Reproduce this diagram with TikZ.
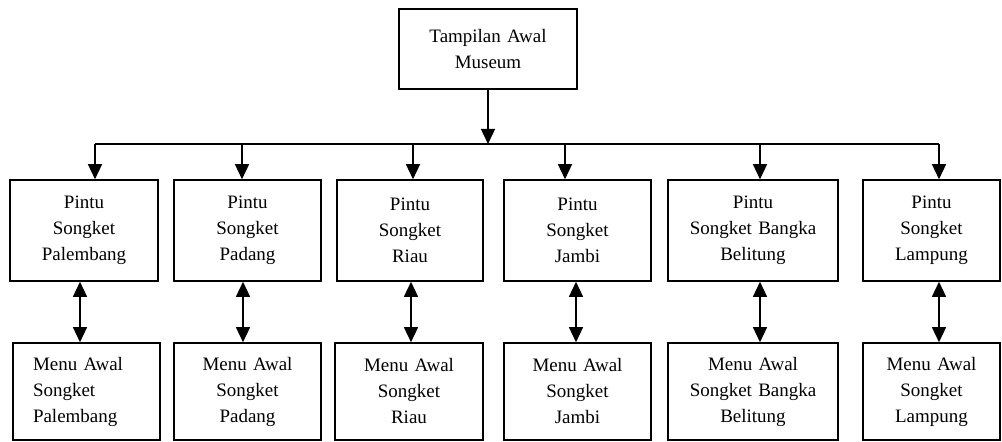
\documentclass[tikz,border=0pt]{standalone}
\usepackage{fontspec}
\setmainfont{Liberation Serif}
\usetikzlibrary{arrows.meta}
\begin{document}
\begin{tikzpicture}
    [
        x=0.02cm, y=-0.02cm,
        every node/.style={draw, line width=0.9pt, inner sep=0pt, align=center,
            font=\fontsize{10.8}{14.8}\selectfont},
        pintu/.style={minimum height=2.02cm},
        menu/.style={minimum height=1.94cm},
        every path/.style={line width=0.8pt},
        arrow/.style={-{Triangle[length=0.3cm, width=0.28cm]}},
        dblarrow/.style={{Triangle[length=0.3cm, width=0.28cm]}-{Triangle[length=0.3cm, width=0.28cm]}},
    ]
  \useasboundingbox (0,0) rectangle (1002,442);

  % Nodes
  \node [minimum width=3.56cm, minimum height=1.6cm, text width=3.2cm] (T) at (488,49) {Tampilan Awal\\Museum};

  \node [pintu, minimum width=2.96cm, text width=2.7cm] (P1) at (84,230.5) {Pintu\\Songket\\Palembang};
  \node [pintu, minimum width=2.94cm, text width=2.7cm] (P2) at (247.5,230.5) {Pintu\\Songket\\Padang};
  \node [pintu, minimum width=2.92cm, text width=2.7cm] (P3) at (410,230.5) {Pintu\\Songket\\Riau};
  \node [pintu, minimum width=2.94cm, text width=2.7cm] (P4) at (577.5,230.5) {Pintu\\Songket\\Jambi};
  \node [pintu, minimum width=3.4cm, text width=3.1cm] (P5) at (753,230.5) {Pintu\\Songket Bangka\\Belitung};
  \node [pintu, minimum width=2.74cm, text width=2.5cm] (P6) at (931.5,230.5) {Pintu\\Songket\\Lampung};

  \node [menu, minimum width=2.94cm, text width=2.14cm, align=left] (M1) at (86.5,391.5) {Menu Awal\\Songket\\Palembang};
  \node [menu, minimum width=2.94cm, text width=2.7cm] (M2) at (247.5,391.5) {Menu Awal\\Songket\\Padang};
  \node [menu, minimum width=2.96cm, text width=2.7cm] (M3) at (409,391.5) {Menu Awal\\Songket\\Riau};
  \node [menu, minimum width=2.94cm, text width=2.7cm] (M4) at (577.5,391.5) {Menu Awal\\Songket\\Jambi};
  \node [menu, minimum width=3.4cm, text width=3.1cm] (M5) at (753,391.5) {Menu Awal\\Songket Bangka\\Belitung};
  \node [menu, minimum width=2.74cm, text width=2.5cm] (M6) at (931.5,391.5) {Menu Awal\\Songket\\Lampung};

  % Bus line
  \coordinate (bL) at (95,144);
  \coordinate (bC) at (488,144);
  \coordinate (bR) at (939,144);
  \draw (bL) -- (bR);
  \draw [arrow] (T) -- (bC);

  % Connections
  \coordinate (a1) at (95,144);
  \coordinate (a2) at (242,144);
  \coordinate (a3) at (413,144);
  \coordinate (a4) at (565,144);
  \coordinate (a5) at (760,144);
  \coordinate (a6) at (939,144);
  \draw [arrow] (a1) -- (a1 |- P1.north);
  \draw [arrow] (a2) -- (a2 |- P2.north);
  \draw [arrow] (a3) -- (a3 |- P3.north);
  \draw [arrow] (a4) -- (a4 |- P4.north);
  \draw [arrow] (a5) -- (a5 |- P5.north);
  \draw [arrow] (a6) -- (a6 |- P6.north);

  \coordinate (d1) at (80,0);
  \coordinate (d2) at (243,0);
  \coordinate (d3) at (411,0);
  \coordinate (d4) at (576,0);
  \coordinate (d5) at (760,0);
  \coordinate (d6) at (939,0);
  \draw [dblarrow] (P1.south -| d1) -- (M1.north -| d1);
  \draw [dblarrow] (P2.south -| d2) -- (M2.north -| d2);
  \draw [dblarrow] (P3.south -| d3) -- (M3.north -| d3);
  \draw [dblarrow] (P4.south -| d4) -- (M4.north -| d4);
  \draw [dblarrow] (P5.south -| d5) -- (M5.north -| d5);
  \draw [dblarrow] (P6.south -| d6) -- (M6.north -| d6);
\end{tikzpicture}
\end{document}
